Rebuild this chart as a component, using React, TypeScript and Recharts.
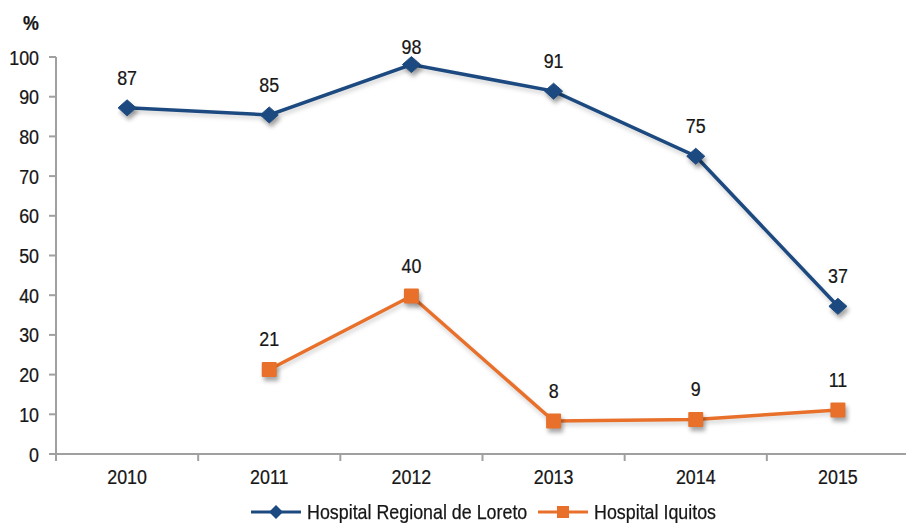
import { LineChart, Line, XAxis, YAxis, Legend, LabelList } from "recharts";

const years = ["2010", "2011", "2012", "2013", "2014", "2015"];
const regionalLoreto = [87.2, 85.4, 98.1, 91.4, 75, 37.2];
const iquitos: (number | null)[] = [null, 21.3, 39.8, 8.3, 8.7, 11.1];
const yTicks = [0, 10, 20, 30, 40, 50, 60, 70, 80, 90, 100];

const BLUE = "#1c4a80";
const ORANGE = "#e8702a";
const AXIS = "#a0a0a0";
const TEXT = "#161616";
// narrow sans look: Liberation Sans squeezed horizontally
const FONT = '"Liberation Sans", Arial, sans-serif';
const FS = 21;
const SQUEEZE = 0.85;

const W = 909;
const H = 523;
const Y_AXIS_W = 56;
const BAND = (W - Y_AXIS_W) / years.length;

const data = years.map((year, i) => ({
  year,
  loreto: regionalLoreto[i],
  iquitos: iquitos[i],
}));

const shadow = "drop-shadow(2px 4px 2px rgba(0,0,0,0.35))";

// width of a string at the legend font, used to undo the space the squeeze leaves
function textWidth(s: string) {
  const ctx = document.createElement("canvas").getContext("2d");
  if (!ctx) return s.length * FS * 0.5;
  ctx.font = `${FS}px ${FONT}`;
  return ctx.measureText(s).width;
}

function NarrowText({ x, y, anchor, dy, children, bold }: any) {
  return (
    <text
      transform={`translate(${x},${y}) scale(${SQUEEZE},1)`}
      textAnchor={anchor}
      dy={dy}
      fill={TEXT}
      stroke={TEXT}
      strokeWidth={0.25}
      fontSize={FS}
      fontFamily={FONT}
      fontWeight={bold ? "bold" : "normal"}
    >
      {children}
    </text>
  );
}

function Diamond({ cx, cy }: any) {
  if (cx == null || cy == null) return null;
  return (
    <polygon
      points={`${cx},${cy - 8} ${cx + 9},${cy} ${cx},${cy + 8} ${cx - 9},${cy}`}
      fill={BLUE}
      stroke={BLUE}
      strokeLinejoin="round"
      style={{ filter: shadow }}
    />
  );
}

function Square({ cx, cy }: any) {
  if (cx == null || cy == null) return null;
  const s = 15;
  return (
    <rect x={cx - s / 2} y={cy - s / 2} width={s} height={s} rx={1} fill={ORANGE} style={{ filter: shadow }} />
  );
}

function YearTick({ x, y, payload }: any) {
  const lx = x - BAND / 2;
  return (
    <g>
      <line x1={lx} x2={lx} y1={y - 7} y2={y} stroke={AXIS} strokeWidth={2} />
      <NarrowText x={x} y={y + 23} anchor="middle">
        {payload.value}
      </NarrowText>
    </g>
  );
}

function ValueTick({ x, y, payload }: any) {
  return (
    <NarrowText x={x} y={y} anchor="end" dy="0.36em">
      {payload.value}
    </NarrowText>
  );
}

// labels sit above the point but never above the top of the plot
function ValueLabel({ x, y, value }: any) {
  if (value == null) return null;
  return (
    <NarrowText x={x} y={Math.max(y - 23, 54)} anchor="middle">
      {Math.round(value)}
    </NarrowText>
  );
}

function LegendContent() {
  const items = [
    { name: "Hospital Regional de Loreto", color: BLUE, shape: "diamond" },
    { name: "Hospital Iquitos", color: ORANGE, shape: "square" },
  ];
  return (
    <div
      style={{
        display: "flex",
        justifyContent: "center",
        alignItems: "center",
        fontFamily: FONT,
        fontSize: FS,
        color: TEXT,
        WebkitTextStroke: "0.25px " + TEXT,
      }}
    >
      {items.map((it) => (
        <div key={it.name} style={{ display: "flex", alignItems: "center", marginRight: 10 }}>
          <svg width={52} height={20} style={{ marginRight: 5 }}>
            <line x1={1} x2={51} y1={10} y2={10} stroke={it.color} strokeWidth={3} />
            {it.shape === "diamond" ? (
              <polygon points="26,3 33,10 26,17 19,10" fill={it.color} />
            ) : (
              <rect x={20} y={4} width={12} height={12} fill={it.color} />
            )}
          </svg>
          <span
            style={{
              display: "inline-block",
              whiteSpace: "nowrap",
              transform: `scaleX(${SQUEEZE})`,
              transformOrigin: "left center",
              marginRight: -(1 - SQUEEZE) * textWidth(it.name),
            }}
          >
            {it.name}
          </span>
        </div>
      ))}
    </div>
  );
}

export default function App() {
  return (
    <div style={{ position: "absolute", left: 0, top: 0, width: 906, height: H, overflow: "hidden", background: "#fff" }}>
      <style>{`.recharts-line-curve { filter: drop-shadow(1px 3px 2px rgba(0,0,0,0.18)); }`}</style>
      <LineChart width={W} height={H} data={data} margin={{ top: 57, right: 0, bottom: 0, left: 0 }}>
        <XAxis
          dataKey="year"
          height={69}
          padding={{ left: BAND / 2, right: BAND / 2 }}
          axisLine={{ stroke: AXIS, strokeWidth: 2 }}
          tickLine={false}
          tickSize={7}
          tickMargin={0}
          tick={<YearTick />}
          interval={0}
        />
        <YAxis
          width={Y_AXIS_W}
          domain={[0, 100]}
          ticks={yTicks}
          interval={0}
          axisLine={{ stroke: AXIS, strokeWidth: 2 }}
          tickLine={{ stroke: AXIS, strokeWidth: 2 }}
          tickSize={7}
          tickMargin={10}
          tick={<ValueTick />}
        />
        <Legend
          verticalAlign="middle"
          align="center"
          content={<LegendContent />}
          wrapperStyle={{ top: 500, left: 0, width: 976 }}
        />
        <Line
          dataKey="loreto"
          name="Hospital Regional de Loreto"
          stroke={BLUE}
          strokeWidth={3.5}
          dot={<Diamond />}
          activeDot={false}
          isAnimationActive={false}
        >
          <LabelList dataKey="loreto" content={<ValueLabel />} />
        </Line>
        <Line
          dataKey="iquitos"
          name="Hospital Iquitos"
          stroke={ORANGE}
          strokeWidth={3.5}
          dot={<Square />}
          activeDot={false}
          connectNulls={false}
          isAnimationActive={false}
        >
          <LabelList dataKey="iquitos" content={<ValueLabel />} />
        </Line>
        <NarrowText x={31} y={30} anchor="middle" bold>
          %
        </NarrowText>
      </LineChart>
    </div>
  );
}
